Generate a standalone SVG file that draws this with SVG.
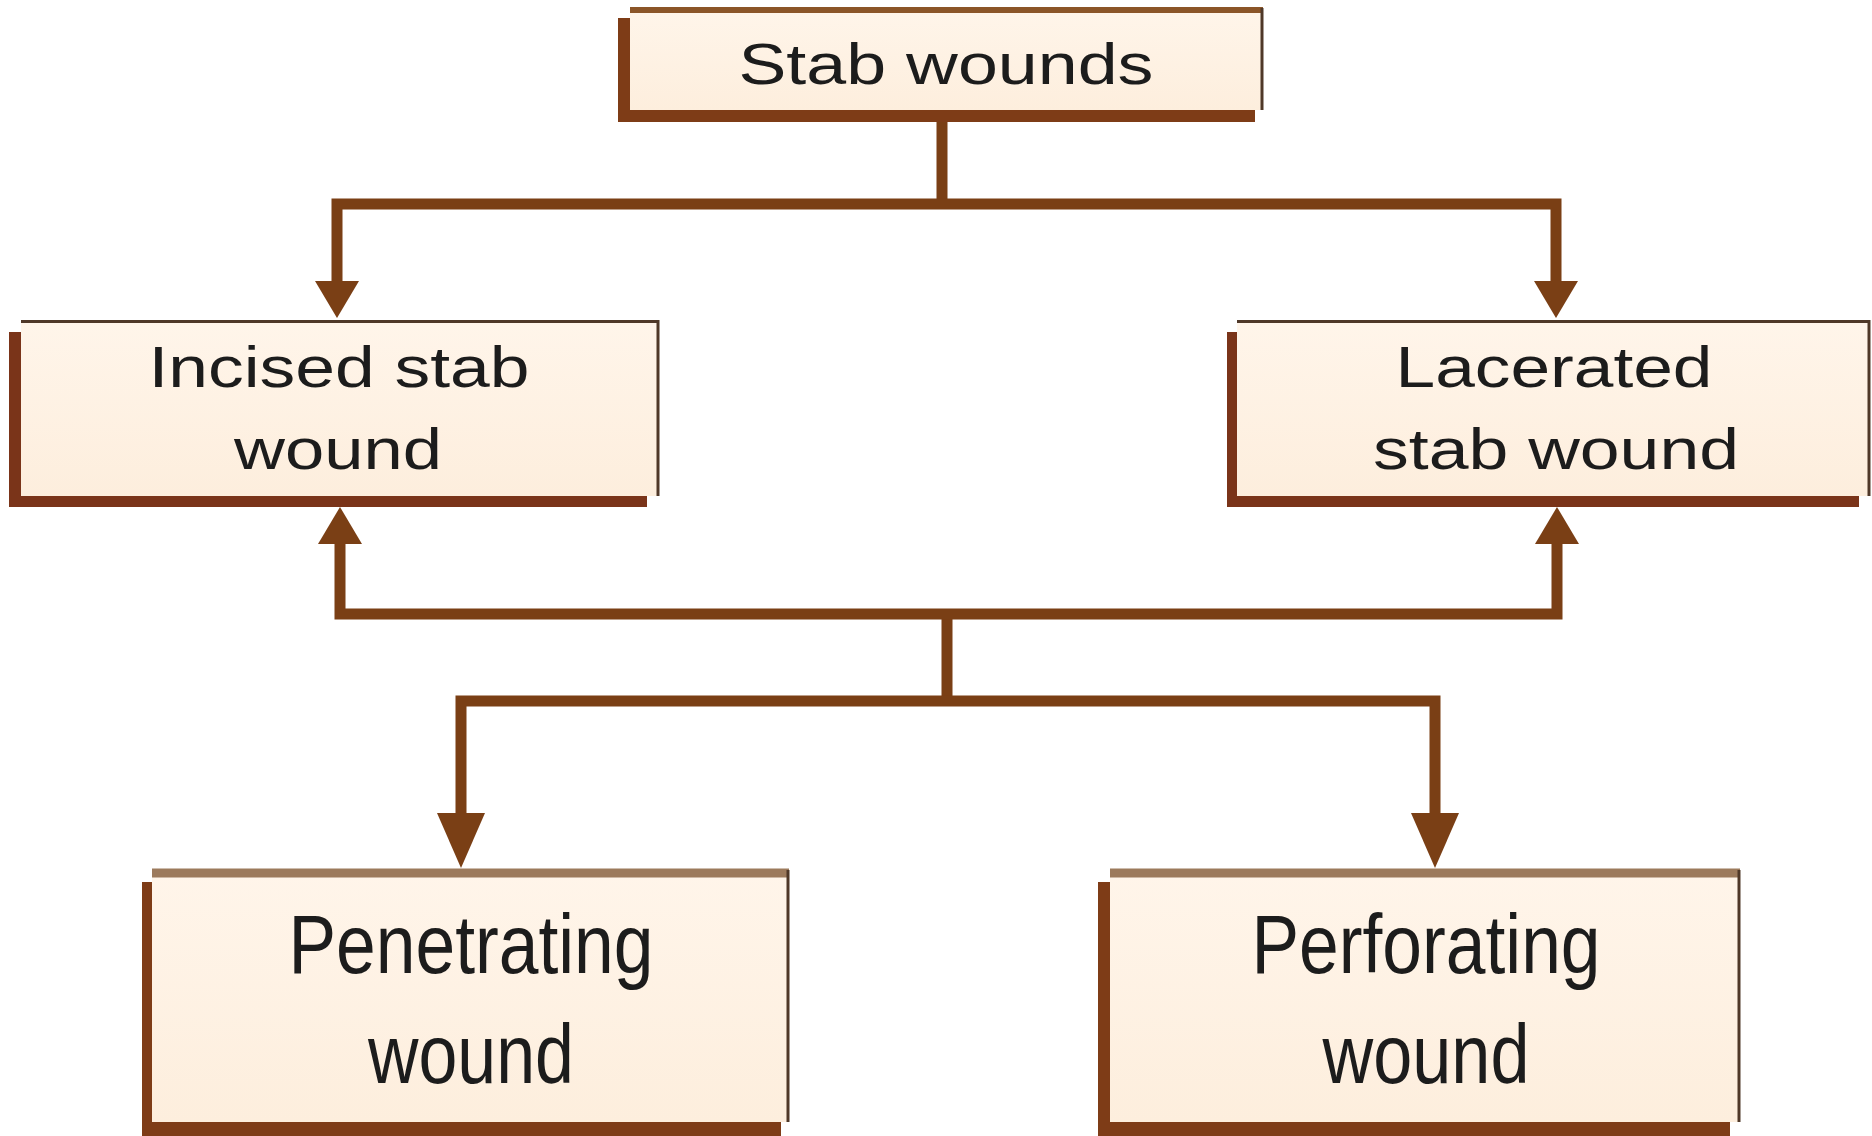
<svg xmlns="http://www.w3.org/2000/svg" width="1872" height="1136" viewBox="0 0 1872 1136">
<style>
.shadow{fill:#7E3C17}
.fill{fill:url(#cream)}
.edge{stroke:#4f3828;stroke-width:3;fill:none}
.topb{stroke:#8B5528;stroke-width:6}
.topt{stroke:#9c7a5c;stroke-width:9}
.lbl{font-family:"Liberation Sans",Arial,sans-serif;fill:#1c1c1c;text-anchor:middle}
.s{font-size:57px}
.b{font-size:84px}
.conn{fill:none;stroke:#7A3F15;stroke-width:11;stroke-linejoin:miter}
</style>
<defs>
<linearGradient id="cream" x1="0" y1="0" x2="0" y2="1">
<stop offset="0" stop-color="#FFF5EA"/>
<stop offset="1" stop-color="#FDEEDD"/>
</linearGradient>
<marker id="arrA" viewBox="0 -24 40 48" refX="0" refY="0" markerWidth="40" markerHeight="48" markerUnits="userSpaceOnUse" orient="auto">
<path d="M0,-22 L37,0 L0,22 Z" fill="#7A3F15"/>
</marker>
<marker id="arrB" viewBox="0 -26 58 52" refX="0" refY="0" markerWidth="58" markerHeight="52" markerUnits="userSpaceOnUse" orient="auto">
<path d="M0,-24 L55,0 L0,24 Z" fill="#7A3F15"/>
</marker>
</defs>
<rect width="1872" height="1136" fill="#ffffff"/>

<g id="connectors">
<path class="conn" d="M942,112 V204"/>
<path class="conn" d="M942,204 H337 V281" marker-end="url(#arrA)"/>
<path class="conn" d="M942,204 H1556 V281" marker-end="url(#arrA)"/>
<path class="conn" d="M947,701 V614"/>
<path class="conn" d="M947,614 H340 V544" marker-end="url(#arrA)"/>
<path class="conn" d="M947,614 H1557 V544" marker-end="url(#arrA)"/>
<path class="conn" d="M947,701 H461 V813" marker-end="url(#arrB)"/>
<path class="conn" d="M947,701 H1435 V813" marker-end="url(#arrB)"/>
</g>

<g id="stab-wounds">
<rect class="shadow" x="618" y="18" width="637" height="104"/>
<rect class="fill" x="630" y="8" width="633" height="102"/>
<line class="topb" x1="630" y1="10" x2="1263" y2="10"/>
<line class="edge" x1="1262" y1="8" x2="1262" y2="110"/>
<text class="lbl s" x="946" y="84" textLength="415" lengthAdjust="spacingAndGlyphs">Stab wounds</text>
</g>

<g id="incised">
<rect class="shadow" x="9" y="332" width="638" height="175" fill="#7A3419" style="fill:#7A3419"/>
<rect class="fill" x="21" y="320" width="638" height="176"/>
<line class="edge" x1="21" y1="321.5" x2="659" y2="321.5"/>
<line class="edge" x1="658" y1="320" x2="658" y2="496"/>
<text class="lbl s" x="339" y="387" textLength="381" lengthAdjust="spacingAndGlyphs">Incised stab</text>
<text class="lbl s" x="338" y="469" textLength="208" lengthAdjust="spacingAndGlyphs">wound</text>
</g>

<g id="lacerated">
<rect class="shadow" x="1227" y="332" width="632" height="175" style="fill:#7A3419"/>
<rect class="fill" x="1237" y="320" width="633" height="176"/>
<line class="edge" x1="1237" y1="321.5" x2="1870" y2="321.5"/>
<line class="edge" x1="1869" y1="320" x2="1869" y2="496"/>
<text class="lbl s" x="1554" y="387" textLength="317" lengthAdjust="spacingAndGlyphs">Lacerated</text>
<text class="lbl s" x="1556" y="469" textLength="366" lengthAdjust="spacingAndGlyphs">stab wound</text>
</g>

<g id="penetrating">
<rect class="shadow" x="142" y="882" width="639" height="254"/>
<rect class="fill" x="152" y="870" width="637" height="252"/>
<line class="topt" x1="152" y1="873" x2="789" y2="873"/>
<line class="edge" x1="788" y1="870" x2="788" y2="1122"/>
<text class="lbl b" x="471" y="973" textLength="365" lengthAdjust="spacingAndGlyphs">Penetrating</text>
<text class="lbl b" x="471" y="1083" textLength="206" lengthAdjust="spacingAndGlyphs">wound</text>
</g>

<g id="perforating">
<rect class="shadow" x="1098" y="882" width="632" height="254"/>
<rect class="fill" x="1110" y="870" width="630" height="252"/>
<line class="topt" x1="1110" y1="873" x2="1740" y2="873"/>
<line class="edge" x1="1739" y1="870" x2="1739" y2="1122"/>
<text class="lbl b" x="1426" y="973" textLength="349" lengthAdjust="spacingAndGlyphs">Perforating</text>
<text class="lbl b" x="1426" y="1083" textLength="207" lengthAdjust="spacingAndGlyphs">wound</text>
</g>
</svg>
